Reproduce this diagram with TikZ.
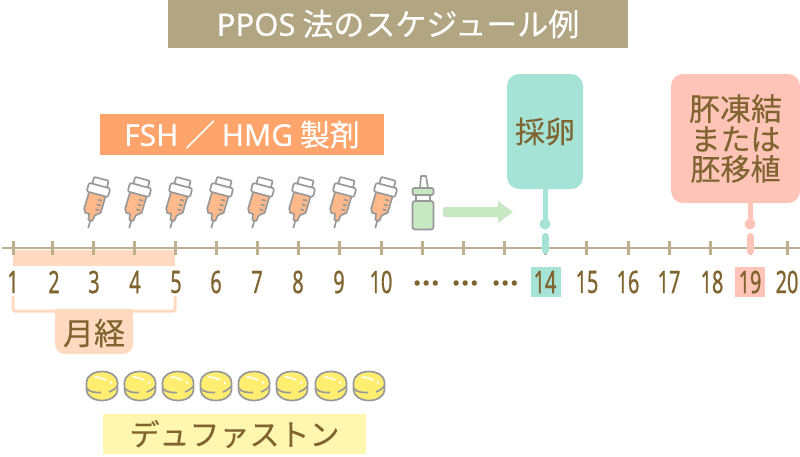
\documentclass[tikz,border=0pt]{standalone}
\usepackage{fontspec}
\setmainfont{Noto Sans CJK JP}[FakeBold=0.25]
\newfontfamily\numf[FakeStretch=0.64,FakeBold=0.8]{Noto Sans}
\newfontfamily\latf[FakeStretch=1.0,FakeBold=0.25]{Noto Sans}
\usetikzlibrary{calc}
\definecolor{txt}{HTML}{7F6430}
\definecolor{axisc}{HTML}{BDB08F}
\definecolor{titlec}{HTML}{B2A582}
\definecolor{orangec}{HTML}{FFA46A}
\definecolor{peach}{HTML}{FFD9C0}
\definecolor{teal}{HTML}{A5E3D7}
\definecolor{pinkc}{HTML}{FFC4B8}
\definecolor{greenc}{HTML}{C8E8C4}
\definecolor{grayl}{HTML}{999999}
\definecolor{syr}{HTML}{FFB98A}
\definecolor{yell}{HTML}{FFEE70}
\definecolor{ltyell}{HTML}{FFF7B0}
\newcommand{\fs}[1]{\fontsize{#1}{#1}\selectfont}
\tikzset{
  x=1pt,y=-1pt,
  box/.style={inner sep=0pt,outer sep=0pt,minimum width=0pt},
  daynum/.style={font=\fs{31}\numf,text=txt,inner sep=0pt,anchor=center},
  tickline/.style={draw=axisc,line width=3pt},
  outl/.style={draw=grayl,line width=1.7pt,line join=round},
  stemline/.style={line width=5pt},
  pillline/.style={line width=7pt,line cap=round},
  syringe/.pic={
    \begin{scope}[rotate=-15]
      \draw[grayl,line width=1.7pt] (0,18) -- (0,26);
      \draw[outl,fill=syr] (-8.5,-10) -- (8.5,-10) -- (8,8) -- (3,12) -- (2,18) -- (-2,18) -- (-3,12) -- (-7,12) -- (-9,8) -- cycle;
      \draw[outl,fill=white,rounded corners=1pt] (-7.5,-25) rectangle (7.5,-17);
      \draw[outl,fill=white,rounded corners=1.5pt] (-11,-18) rectangle (11,-9);
      \draw[grayl,line width=1.7pt] (2,-4) -- (6,-4) (2,1) -- (6,1) (2,6) -- (6,6);
    \end{scope}
  },
  tablet/.pic={
    \draw[outl,fill=yell] (-15.5,-4) -- (-15.5,4) arc[start angle=180,end angle=0,x radius=15.5,y radius=10.5] -- (15.5,-4) arc[start angle=0,end angle=-180,x radius=15.5,y radius=10.5] -- cycle;
    \draw[outl] (-15.5,2) .. controls (-12,7) and (-5,6.5) .. (-1,6.5);
    \draw[outl] (15.5,0) .. controls (13,3) and (10,5) .. (7,6);
    \draw[white,line width=1.5pt,line cap=round] (-7,-9) .. controls (-3,-9) and (1,-7.5) .. (4,-6);
    \fill[white] (9,-3.5) circle[radius=1.3];
  }
}
\begin{document}
\begin{tikzpicture}
\useasboundingbox (0,0) rectangle (800,456);
% title
\node[box,fill=titlec,text=white,minimum width=460pt,minimum height=48pt,font=\fs{31}] (title) at (398,24) {{\latf PPOS} 法のスケジュール例};
% axis
\coordinate (axL) at (2,248);
\coordinate (axR) at (800,248);
\fill[peach] (13,250) rectangle (175,266);
\draw[axisc,line width=2pt] (axL) -- (axR);
\foreach \x in {13,52,93,134,175,216,257,298,339,381,422,463,504,545,586,628,669,710,750,787}
  \draw[tickline] (\x,241) -- (\x,255);
% number highlights
\node[box,fill=teal,minimum width=30pt,minimum height=30pt] (hl14) at (546,282) {};
\node[box,fill=pinkc,minimum width=30pt,minimum height=30pt] (hl19) at (750,282) {};
% day numbers
\foreach \x/\n in {13/1,54/2,94/3,135/4,176/5,216/6,257/7,298/8,339/9,381/10,545/14,587/15,628/16,669/17,712/18,750/19,787/20}
  \node[daynum] (d\n) at (\x,282) {\n};
\foreach \x/\n in {426/a,465/b,505/c}
  \node[font=\fs{24}\bfseries,text=txt,inner sep=0pt] (dots\n) at (\x,283) {…};
% FSH box
\node[box,fill=orangec,text=white,minimum width=284pt,minimum height=41pt,font=\fs{30}] (fsh) at (242,134.5) {{\latf FSH} ／ {\latf HMG} 製剤};
% syringes
\foreach \i [evaluate=\i as \xx using 95+41*\i] in {0,...,7}
  \pic at (\xx,203) {syringe};
% bottle
\draw[outl,fill=white] (420,188) -- (421,176) -- (426,176) -- (428,188) -- cycle;
\draw[outl,fill=white] (416,195) rectangle (430,202);
\draw[outl,fill=greenc,rounded corners=2pt] (412.5,188) rectangle (433.5,195);
\draw[outl,fill=greenc,rounded corners=2.5pt] (412.5,201) rectangle (433.5,229.5);
% arrow
\fill[greenc,rounded corners=2pt] (443,207) -- (500,207) -- (500,217) -- (443,217) -- cycle;
\fill[greenc] (498,201) -- (513,212) -- (498,223) -- cycle;
% teal marker
\node[box,fill=teal,rounded corners=12pt,minimum width=76pt,minimum height=115pt,text=txt,font=\fs{30}] (saran) at (545,131.5) {採卵};
\coordinate (dot14) at (545,224);
\coordinate (p14a) at (545,236.5);
\coordinate (p14b) at (545,250.5);
\draw[teal,stemline] (saran.south) -- (dot14);
\fill[teal] (dot14) circle[radius=5.5];
\draw[teal,pillline] (p14a) -- (p14b);
% pink marker
\node[box,fill=pinkc,rounded corners=12pt,minimum width=129pt,minimum height=129pt,text=txt,font=\fs{30},align=center] (ivf) at (735.5,138.5) {\fontsize{31}{33}\selectfont 肧凍結\\または\\胚移植};
\coordinate (top19) at (750,203);
\coordinate (dot19) at (750,224);
\coordinate (p19a) at (750,236.5);
\coordinate (p19b) at (750,251.5);
\draw[pinkc,stemline] (top19) -- (dot19);
\fill[pinkc] (dot19) circle[radius=5.5];
\draw[pinkc,pillline] (p19a) -- (p19b);
% menstruation
\coordinate (brL) at (13,296);
\coordinate (brR) at (175,296);
\draw[peach,line width=3pt,rounded corners=2pt] (brL) -- (13,311) -- (175,311) -- (brR);
\fill[peach,rounded corners=10pt] (55,309) -- (55,354) -- (133,354) -- (133,309) -- cycle;
\fill[peach] (55,309) rectangle (133,320);
\node[text=txt,font=\fs{31},inner sep=0pt] (gekkei) at (94,333) {月経};
% tablets
\foreach \x in {102,140,178,216,254,292,331,369}
  \pic at (\x,386) {tablet};
% duphaston
\node[box,fill=ltyell,text=txt,minimum width=263pt,minimum height=40pt,font=\fs{30}] (duph) at (234.5,434) {デュファストン};
\end{tikzpicture}
\end{document}
